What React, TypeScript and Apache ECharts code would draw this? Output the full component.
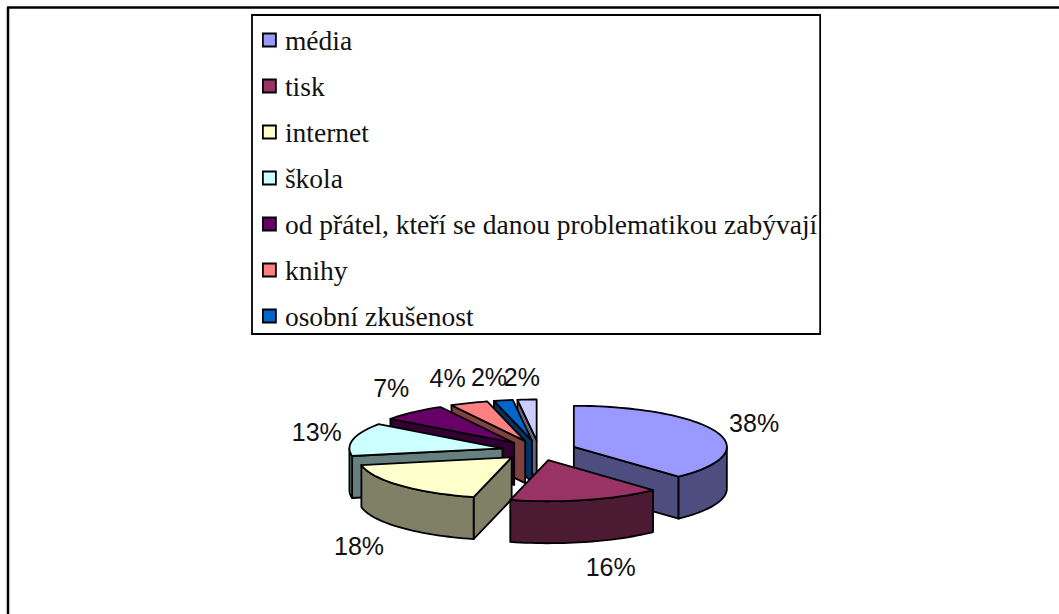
import React, { useEffect, useRef } from "react";
import * as echarts from "echarts";

const categories = ["média", "tisk", "internet", "škola", "od přátel, kteří se danou problematikou zabývají", "knihy", "osobní zkušenost", "ostatní"];
const legendNames = categories.slice(0, 7);
const values = [38, 16, 18, 13, 7, 4, 2, 2];
const topColors = ["#9999FF", "#993366", "#FFFFCC", "#CCFFFF", "#660066", "#FF8080", "#0066CC", "#CCCCFF"];
const sideColors = ["#4D4D80", "#4D1A33", "#808066", "#668080", "#330033", "#804040", "#003366", "#666680"];
const paintOrder = [7, 8, 6, 5, 4, 3, 2, 1]; // stacking of each slice, back to front
const labelNudge = [[-8, 1], [12, 0], [-5, 13], [12, -1], [11, -4], [-3, 0], [-5, 3], [-2, 4]];

const CX = 539, CY = 450.5, A = 153, B = 41, DEPTH = 42, EXPLODE = 0.245;
const total = values.reduce((s, v) => s + v, 0);

function App() {
  const ref = useRef<HTMLDivElement>(null);
  useEffect(() => {
    const chart = echarts.init(ref.current!, null, { renderer: "svg" });
    const rad = (d: number) => (d * Math.PI) / 180;

    const makeRender = (idx: number) => (_p: any, api: any) => {
      const v = api.value(0) as number;
      const before = values.slice(0, idx).reduce((s, x) => s + x, 0);
      const t1 = (before / total) * 360;
      const t2 = t1 + (v / total) * 360;
      const mid = rad((t1 + t2) / 2);
      const ax = CX + EXPLODE * A * Math.sin(mid);
      const ay = CY - EXPLODE * B * Math.cos(mid);
      const pt = (deg: number, dy = 0): number[] => [ax + A * Math.sin(rad(deg)), ay - B * Math.cos(rad(deg)) + dy];
      const arc = (a: number, b: number, dy = 0) => {
        const n = Math.max(2, Math.ceil(Math.abs(b - a) / 2));
        const out: number[][] = [];
        for (let i = 0; i <= n; i++) out.push(pt(a + ((b - a) * i) / n, dy));
        return out;
      };
      const side = { fill: sideColors[idx], stroke: "#000", lineWidth: 1.8, lineJoin: "round" };
      const children: any[] = [];
      const poly = (points: number[][], style: any) =>
        children.push({ type: "polygon", shape: { points }, style });
      // cut faces
      if (Math.sin(rad(t1)) < -1e-6) {
        const p = pt(t1);
        poly([[ax, ay], p, [p[0], p[1] + DEPTH], [ax, ay + DEPTH]], side);
      }
      if (Math.sin(rad(t2)) > 1e-6) {
        const p = pt(t2);
        poly([[ax, ay], p, [p[0], p[1] + DEPTH], [ax, ay + DEPTH]], side);
      }
      // outer wall
      const w1 = Math.max(t1, 90), w2 = Math.min(t2, 270);
      if (w2 > w1) {
        poly([...arc(w1, w2), ...arc(w2, w1, DEPTH)], side);
      }
      // top face
      poly([[ax, ay], ...arc(t1, t2)], { fill: topColors[idx], stroke: "#000", lineWidth: 1.8, lineJoin: "round" });
      // percentage label
      const s = Math.sin(mid), c = Math.cos(mid);
      children.push({
        type: "text",
        style: {
          text: `${Math.round((v / total) * 100)}%`,
          x: CX + 240 * s + labelNudge[idx][0],
          y: CY - 78 * c + (c < 0 ? DEPTH * -c : 0) + labelNudge[idx][1],
          align: "center",
          verticalAlign: "middle",
          fontFamily: "Liberation Sans",
          fontSize: 25,
          fill: "#111",
        },
      });
      return { type: "group", children };
    };

    chart.setOption({
      animation: false,
      backgroundColor: "#fff",
      legend: {
        data: legendNames,
        orient: "vertical",
        left: 252,
        top: 15,
        padding: [11, 3, 4, 10],
        itemGap: 18,
        itemWidth: 13,
        itemHeight: 13,
        icon: "rect",
        borderColor: "#000",
        borderWidth: 1.8,
        selectedMode: false,
        itemStyle: { borderColor: "#000", borderWidth: 1.8 },
        textStyle: { fontFamily: "Liberation Serif", fontSize: 27.5, color: "#111", lineHeight: 26, padding: [0, 0, 0, 4] },
      },
      graphic: [
        { type: "line", shape: { x1: 7, y1: 7.5, x2: 1059, y2: 7.5 }, style: { stroke: "#000", lineWidth: 2.5 } },
        { type: "line", shape: { x1: 8, y1: 7.5, x2: 8, y2: 614 }, style: { stroke: "#000", lineWidth: 2.5 } },
      ],
      series: categories.map((name, i) => ({
        type: "custom",
        name,
        coordinateSystem: "none",
        z: 2 + paintOrder[i] / 10,
        silent: true,
        itemStyle: { color: topColors[i] },
        data: [[values[i]]],
        renderItem: makeRender(i),
      })),
    });
    return () => chart.dispose();
  }, []);
  return <div ref={ref} style={{ position: "fixed", left: 0, top: 0, width: 1059, height: 614 }} />;
}

export default App;
